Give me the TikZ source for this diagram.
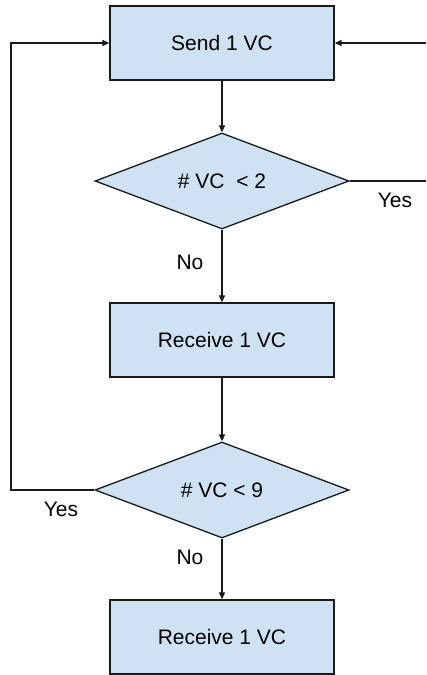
\documentclass[tikz,border=0pt]{standalone}
\usepackage{fontspec}
\setmainfont{Liberation Sans}
\usetikzlibrary{shapes.geometric,arrows.meta}
\definecolor{boxfill}{HTML}{CFE2F3}
\definecolor{boxline}{HTML}{1A1A1A}
\tikzset{
  procbox/.style={rectangle, draw=boxline, fill=boxfill, line width=1.3pt,
    minimum width=224pt, minimum height=74pt, inner sep=0pt,
    font=\fontsize{21}{24}\selectfont},
  decision/.style={diamond, draw=boxline, fill=boxfill, line width=1.3pt,
    minimum width=254pt, minimum height=96pt, inner sep=0pt, shape aspect=2.6,
    font=\fontsize{21}{24}\selectfont},
  conn/.style={line width=1.3pt, draw=boxline},
  arr/.style={conn, -{Triangle[length=7pt,width=6pt]}},
  lbl/.style={font=\fontsize{21}{24}\selectfont, inner sep=0pt}
}
\begin{document}
\begin{tikzpicture}[x=1pt,y=-1pt]
\useasboundingbox (0,0) rectangle (426,675);
\node[procbox] (send) at (222,43) {Send 1 VC};
\node[decision] (d1) at (222,181) {\# VC\ \ < 2};
\node[procbox] (recv1) at (222,340) {Receive 1 VC};
\node[decision] (d2) at (222,490) {\# VC < 9};
\node[procbox] (recv2) at (222,637) {Receive 1 VC};
\coordinate (rtop) at (426,43);
\coordinate (rmid) at (426,181);
\coordinate (lcorner) at (11,490);
\coordinate (ltop) at (11,43);
\draw[arr] (send) -- (d1);
\draw[arr] (d1) -- (recv1);
\draw[arr] (recv1) -- (d2);
\draw[arr] (d2) -- (recv2);
\draw[conn] (d1.east) -- (rmid);
\draw[arr] (rtop) -- (send.east);
\draw[arr] (d2.west) -- (lcorner) -- (ltop) -- (send.west);
\node[lbl] (yes1) at (395,200) {Yes};
\node[lbl] (no1) at (190,262) {No};
\node[lbl] (yes2) at (61,509) {Yes};
\node[lbl] (no2) at (190,557) {No};
\end{tikzpicture}
\end{document}
